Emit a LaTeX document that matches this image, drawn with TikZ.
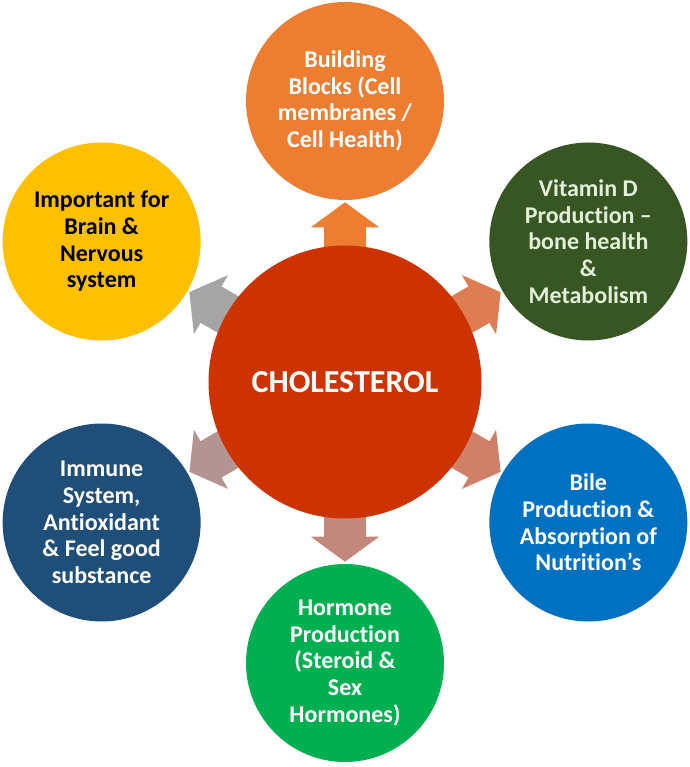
\documentclass[tikz,border=0pt]{standalone}
\usepackage{fontspec}
\setmainfont{Carlito}[Ligatures=NoCommon]
\usepackage{xcolor}
\usepackage{tikz}
\usetikzlibrary{arrows.meta,backgrounds}

\definecolor{cholred}{HTML}{CC3300}
\definecolor{blockorange}{HTML}{ED7D31}
\definecolor{vitgreen}{HTML}{375623}
\definecolor{vittext}{HTML}{E2F0D9}
\definecolor{bileblue}{HTML}{0070C0}
\definecolor{hormgreen}{HTML}{00B050}
\definecolor{immuneblue}{HTML}{1F4E79}
\definecolor{braingold}{HTML}{FFC000}
\definecolor{arrowA}{HTML}{ED7D31}
\definecolor{arrowB}{HTML}{DE7D54}
\definecolor{arrowC}{HTML}{D08068}
\definecolor{arrowD}{HTML}{C3887C}
\definecolor{arrowE}{HTML}{B49492}
\definecolor{arrowF}{HTML}{A5A5A5}

\begin{document}
\begin{tikzpicture}[
    x=0.75pt, y=0.75pt,
    satellite/.style={circle, minimum size=148.5pt, inner sep=0pt, align=center, text=white, font=\bfseries\fontsize{18}{20}\selectfont},
    core/.style={circle, fill=cholred, minimum size=204.75pt, inner sep=0pt, text=white, font=\bfseries\fontsize{24}{28}\selectfont},
    fatarrow/.style={line width=31.5pt, -{Triangle[length=18.75pt, width=50.25pt]}, shorten <=-15pt, shorten >=1.5pt},
]
    \useasboundingbox (-345,-385) rectangle (344,382);

    \node[core] (chol) at (0,0) {CHOLESTEROL};
    \node[satellite, fill=blockorange] (blocks) at (90:281) {Building\\Blocks (Cell\\membranes /\\Cell Health)};
    \node[satellite, fill=vitgreen, text=vittext] (vitamin) at (30:281) {Vitamin D\\Production –\\bone health\\\&\\Metabolism};
    \node[satellite, fill=bileblue] (bile) at (-30:281) {Bile\\Production \&\\Absorption of\\Nutrition’s};
    \node[satellite, fill=hormgreen] (hormone) at (-90:281) {Hormone\\Production\\(Steroid \&\\Sex\\Hormones)};
    \node[satellite, fill=immuneblue] (immune) at (210:281) {Immune\\System,\\Antioxidant\\\& Feel good\\substance};
    \node[satellite, fill=braingold, text=black] (brain) at (150:281) {Important for\\Brain \&\\Nervous\\system};

    \begin{scope}[on background layer]
        \draw[fatarrow, arrowA] (chol) -- (blocks);
        \draw[fatarrow, arrowB] (chol) -- (vitamin);
        \draw[fatarrow, arrowC] (chol) -- (bile);
        \draw[fatarrow, arrowD] (chol) -- (hormone);
        \draw[fatarrow, arrowE] (chol) -- (immune);
        \draw[fatarrow, arrowF] (chol) -- (brain);
    \end{scope}
\end{tikzpicture}
\end{document}
